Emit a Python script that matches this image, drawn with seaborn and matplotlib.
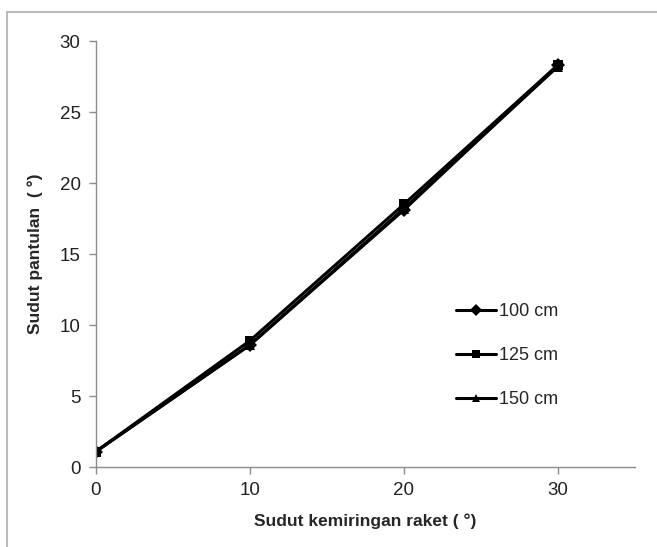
import pandas as pd
import seaborn as sns
import matplotlib.pyplot as plt
from matplotlib.patches import Rectangle

# data
sudut_raket = [0, 10, 20, 30]
pantulan_100 = [1.1, 8.6, 18.1, 28.3]
pantulan_125 = [1.1, 8.9, 18.5, 28.3]
pantulan_150 = [1.1, 8.6, 18.2, 28.2]
label_seri = ["100 cm", "125 cm", "150 cm"]

rows = []
for nama, vals in zip(label_seri, [pantulan_100, pantulan_125, pantulan_150]):
    for x, y in zip(sudut_raket, vals):
        rows.append({"x": x, "y": y, "seri": nama})
df = pd.DataFrame(rows)

sns.set_theme(style="white")
plt.rcParams["font.family"] = ["Liberation Sans", "DejaVu Sans"]

fig = plt.figure(figsize=(6.57, 5.47), dpi=100)
ax = fig.add_axes([0.146, 0.146, 0.820, 0.779])

sns.lineplot(data=df, x="x", y="y", hue="seri", style="seri",
             palette=["black"] * 3, markers={"100 cm": "D", "125 cm": "s", "150 cm": "^"},
             dashes=False, linewidth=2.2, markersize=7, markeredgewidth=0,
             ax=ax)

ax.set_xlim(0, 35)
ax.set_ylim(0, 30)
ax.set_xticks([0, 10, 20, 30])
ax.set_yticks([0, 5, 10, 15, 20, 25, 30])
for s in ["top", "right"]:
    ax.spines[s].set_visible(False)
for s in ["left", "bottom"]:
    ax.spines[s].set_color("#8c8c8c")
    ax.spines[s].set_linewidth(1)
ax.tick_params(axis="both", direction="out", length=5, width=1, color="#8c8c8c",
               labelsize=13.5, labelcolor="#222222", pad=6, left=True, bottom=True)

ax.set_xlabel("Sudut kemiringan raket ( °)", fontsize=12.5, fontweight="bold", labelpad=10)
ax.set_ylabel("Sudut pantulan  ( °)", fontsize=12.5, fontweight="bold", labelpad=12)

handles, labels = ax.get_legend_handles_labels()
for h in handles:
    h.set_markersize(6)
ax.legend(handles, labels, frameon=False, fontsize=13, loc="center left",
          bbox_to_anchor=(0.638, 0.262), handlelength=2.2, handletextpad=0.2,
          labelspacing=1.5)

fig.patches.append(Rectangle((7 / 657, -0.1), 1.2, 1.1 - 12 / 547, transform=fig.transFigure,
                             fill=False, edgecolor="#bbbbbb", linewidth=1.5))

fig.savefig("out.png", dpi=100)
